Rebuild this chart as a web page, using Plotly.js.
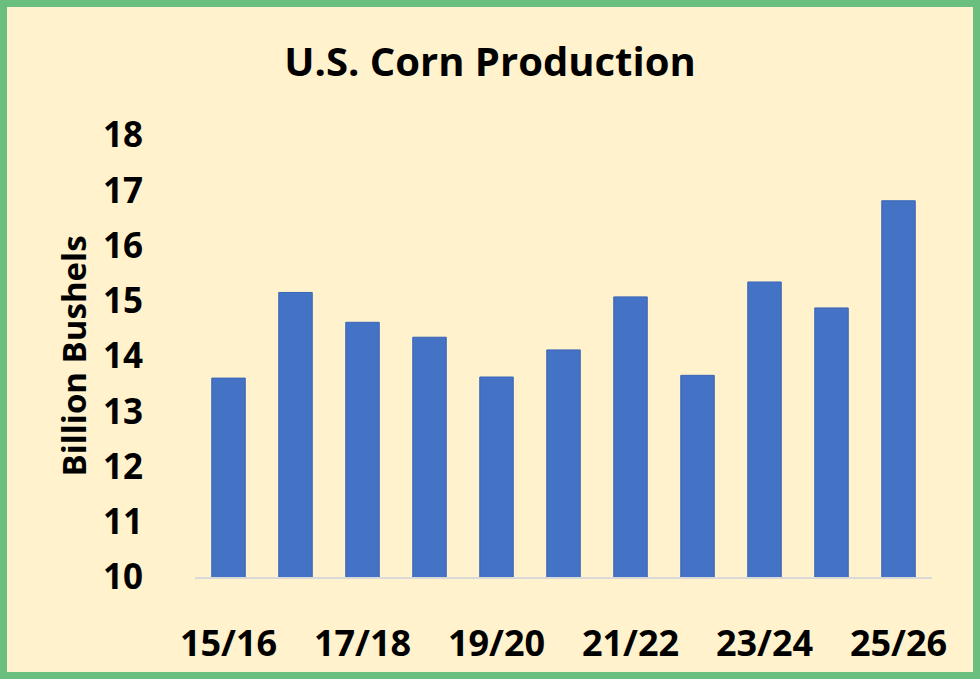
<!DOCTYPE html>
<html>
<head>
<meta charset="utf-8">
<script src="https://cdn.plot.ly/plotly-3.0.1.min.js"></script>
<style>
  html, body { margin: 0; padding: 0; background: #FFF2CC; }
  #wrap { position: relative; width: 980px; height: 679px; }
  #chart { width: 980px; height: 679px; }
  #frame { position: absolute; left: 0; top: 0; width: 980px; height: 679px; box-sizing: border-box; border: 7px solid #6ABF7E; pointer-events: none; }
</style>
</head>
<body>
<div id="wrap"><div id="chart"></div><div id="frame"></div></div>
<script>
const categories = ["15/16","16/17","17/18","18/19","19/20","20/21","21/22","22/23","23/24","24/25","25/26"];
const production = [13.60, 15.15, 14.61, 14.34, 13.62, 14.11, 15.07, 13.65, 15.34, 14.87, 16.81];
const xTickLabels = ["15/16","17/18","19/20","21/22","23/24","25/26"];
const yTickValues = [10, 11, 12, 13, 14, 15, 16, 17, 18];

const fontFam = "Open Sans, Noto Sans, sans-serif";

Plotly.newPlot("chart", [{
  type: "bar",
  x: categories,
  y: production,
  marker: { color: "#4472C4", line: { color: "#3A66B8", width: 1 } },
  hoverinfo: "x+y"
}], {
  width: 980,
  height: 679,
  paper_bgcolor: "#FFF2CC",
  plot_bgcolor: "#FFF2CC",
  margin: { l: 195, r: 48, t: 135, b: 102 },
  bargap: 0.5,
  showlegend: false,
  title: {
    text: "<b>U.S. Corn Production</b>",
    font: { family: fontFam, size: 40, color: "#000000" },
    x: 0.5, xref: "container", xanchor: "center",
    y: 1 - 62/679, yref: "container", yanchor: "middle"
  },
  xaxis: {
    type: "category",
    tickmode: "array",
    tickvals: xTickLabels,
    ticktext: xTickLabels.map(t => "<b>" + t + "</b>"),
    ticks: "outside", ticklen: 34, tickcolor: "rgba(0,0,0,0)",
    tickfont: { family: fontFam, size: 36, color: "#000000" },
    showline: true, linecolor: "#D9D9D9", linewidth: 2,
    showgrid: false, zeroline: false, fixedrange: true
  },
  yaxis: {
    range: [10, 18],
    tickmode: "array",
    tickvals: yTickValues,
    ticktext: yTickValues.map(v => "<b>" + v + "</b>"),
    ticks: "outside", ticklen: 44, tickcolor: "rgba(0,0,0,0)",
    tickfont: { family: fontFam, size: 35, color: "#000000" },
    showline: false, showgrid: false, zeroline: false, fixedrange: true,
    title: {
      text: "<b>Billion Bushels</b>",
      font: { family: fontFam, size: 33, color: "#000000" },
      standoff: 6
    }
  }
}, { displayModeBar: false, staticPlot: true });
</script>
</body>
</html>
